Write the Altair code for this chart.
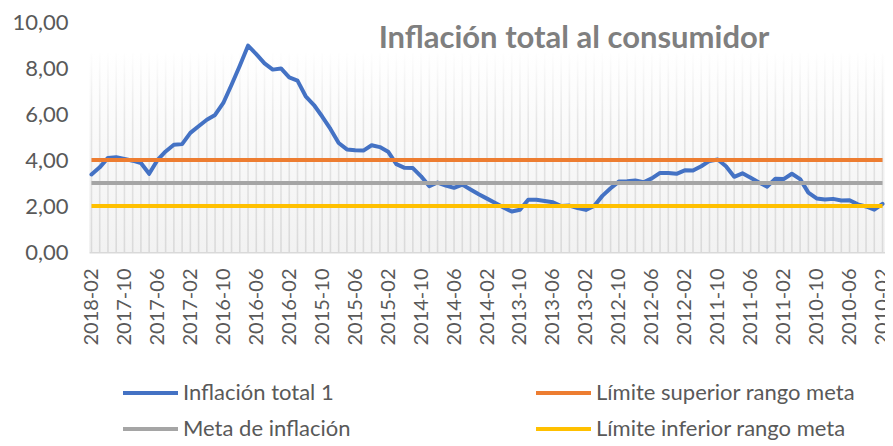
import altair as alt
import pandas as pd

# ---------------- data ----------------
months = []
_y, _m = 2018, 2
for _ in range(97):
    months.append(f"{_y}-{_m:02d}")
    _m -= 1
    if _m == 0:
        _m = 12
        _y -= 1

inflation = [
    3.37, 3.68,                                                            # 2018-02..2018-01
    4.09, 4.12, 4.05, 3.97, 3.87, 3.40, 3.99, 4.37, 4.66, 4.69, 5.18, 5.47,  # 2017
    5.75, 5.96, 6.48, 7.27, 8.10, 8.97, 8.60, 8.20, 7.93, 7.98, 7.59, 7.45,  # 2016
    6.77, 6.39, 5.89, 5.35, 4.74, 4.46, 4.42, 4.41, 4.64, 4.56, 4.36, 3.82,  # 2015
    3.66, 3.65, 3.29, 2.86, 3.02, 2.89, 2.79, 2.93, 2.72, 2.51, 2.32, 2.13,  # 2014
    1.94, 1.76, 1.84, 2.27, 2.27, 2.22, 2.16, 2.00, 2.02, 1.91, 1.83, 2.00,  # 2013
    2.44, 2.77, 3.06, 3.08, 3.11, 3.03, 3.20, 3.44, 3.43, 3.40, 3.55, 3.54,  # 2012
    3.73, 3.96, 4.02, 3.73, 3.27, 3.42, 3.23, 3.02, 2.84, 3.19, 3.17, 3.40,  # 2011
    3.17, 2.58, 2.33, 2.28, 2.31, 2.24, 2.25, 2.07, 1.98, 1.84, 2.09,        # 2010-12..2010-02
]

label_months = months[::4]

# legend fills column by column
series_names = ["Inflación total 1", "Meta de inflación",
                "Límite superior rango meta", "Límite inferior rango meta"]
series_colors = ["#4472C4", "#A5A5A5", "#ED7D31", "#FFC000"]

ref_names = ["Límite superior rango meta", "Meta de inflación", "Límite inferior rango meta"]
ref_values = [4.0, 3.0, 2.0]

y_ticks = [0, 2, 4, 6, 8, 10]
band_top = 8.65
title_text = "Inflación total al consumidor"

# ---------------- tables ----------------
df_line = pd.DataFrame({"mes": months, "valor": inflation, "serie": series_names[0]})
df_ref = pd.DataFrame({"serie": ref_names, "valor": ref_values,
                       "inicio": months[0], "fin": months[-1]})

FONT = "Lato"

x_scale = alt.Scale(type="point", domain=months, padding=0.3)
y_scale = alt.Scale(domain=[0, 10], nice=False)

color = alt.Color(
    "serie:N",
    scale=alt.Scale(domain=series_names, range=series_colors),
    legend=alt.Legend(
        title=None, orient="none", legendX=32, legendY=361, columns=2,
        columnPadding=183, rowPadding=14, symbolType="stroke", symbolSize=3025,
        symbolStrokeWidth=4, labelFont=FONT, labelFontSize=22, labelColor="#595959",
        labelOffset=3, clipHeight=20, labelLimit=400,
    ),
)

x_enc = alt.X(
    "mes:N", scale=x_scale, title=None,
    axis=alt.Axis(values=label_months, labelAngle=270, labelPadding=16, ticks=False,
                  domainColor="#D9D9D9", domainWidth=2, labelFont=FONT, labelFontSize=20,
                  labelColor="#595959", grid=False),
)

bg_grad = alt.Gradient(gradient="linear", x1=0, x2=0, y1=0, y2=1,
                       stops=[alt.GradientStop(color="#FFFFFF", offset=0),
                              alt.GradientStop(color="#F2F2F2", offset=1)])
bar_grad = alt.Gradient(gradient="linear", x1=0, x2=0, y1=0, y2=1,
                        stops=[alt.GradientStop(color="#FEFEFE", offset=0),
                               alt.GradientStop(color="#E6E6E6", offset=0.35),
                               alt.GradientStop(color="#DADADA", offset=1)])

background = alt.Chart(pd.DataFrame({"k": [0]})).mark_rect(color=bg_grad).encode(
    x=alt.value(0), x2=alt.value("width"),
    y=alt.datum(band_top, scale=y_scale), y2=alt.datum(0),
)

vlines = alt.Chart(df_line).mark_bar(size=1.6, color=bar_grad).encode(
    x=x_enc,
    y=alt.datum(band_top, scale=y_scale), y2=alt.datum(0),
)

line = alt.Chart(df_line).mark_line(strokeWidth=4, strokeCap="round", strokeJoin="round").encode(
    x=x_enc,
    y=alt.Y("valor:Q", scale=y_scale, title=None,
            axis=alt.Axis(values=y_ticks, labelExpr="replace(format(datum.value, '.2f'), '.', ',')",
                          ticks=False, domain=False, grid=False, labelPadding=21,
                          labelFont=FONT, labelFontSize=22, labelColor="#595959")),
    color=color,
)

rules = alt.Chart(df_ref).mark_rule(strokeWidth=4).encode(
    x=alt.X("inicio:N", scale=x_scale), x2="fin:N",
    y=alt.Y("valor:Q", scale=y_scale),
    color=color,
)

title = alt.Chart(pd.DataFrame({"t": [title_text]})).mark_text(
    font=FONT, fontSize=31, fontWeight="bold", color="#7F7F7F", align="center", baseline="alphabetic"
).encode(text="t:N", x=alt.value(485), y=alt.value(26))

chart = alt.layer(background, vlines, line, rules, title).properties(
    width=796, height=230,
    autosize=alt.AutoSizeParams(type="none"),
    padding={"left": 81, "top": 14, "right": 0, "bottom": 188},
).configure_view(stroke=None)

chart.save("out.html", embed_options={"renderer": "svg", "actions": False})
